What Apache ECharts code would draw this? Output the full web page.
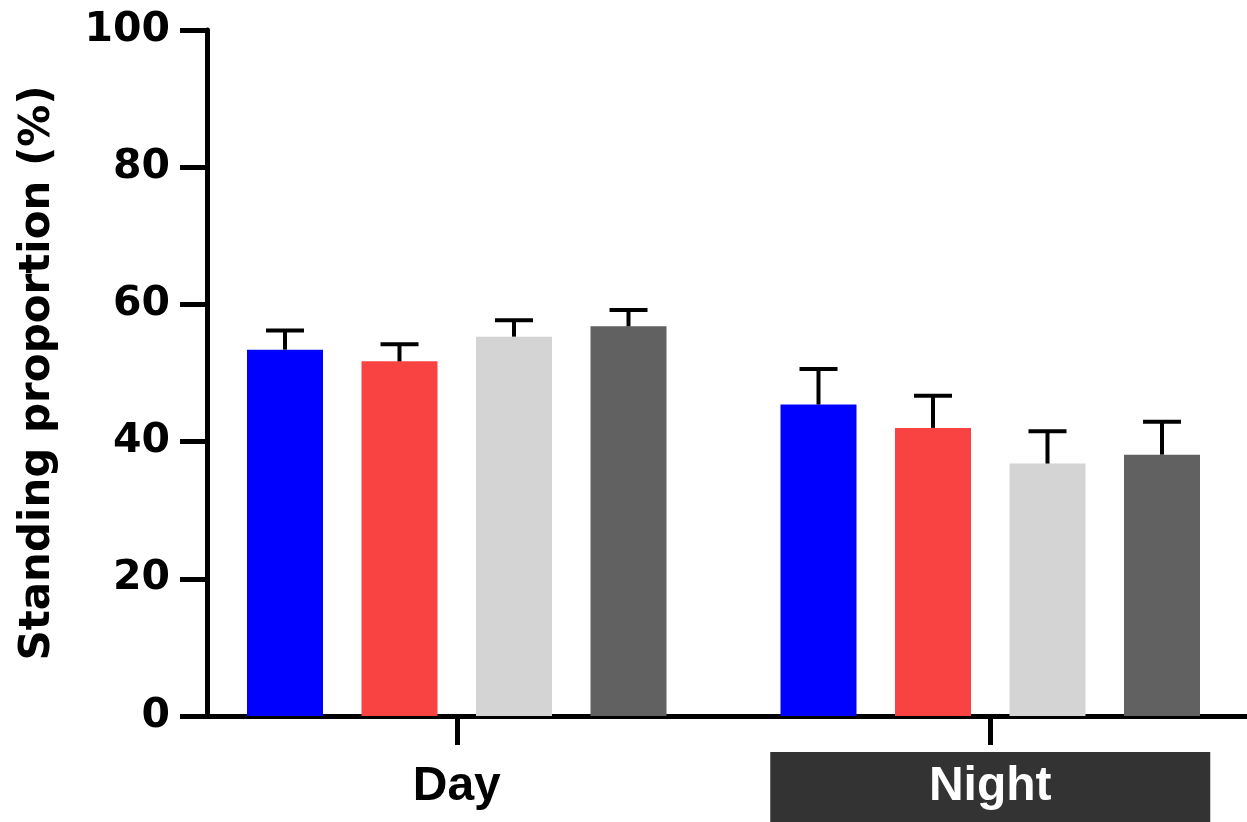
<!DOCTYPE html>
<html>
<head>
<meta charset="utf-8">
<script src="https://cdn.jsdelivr.net/npm/echarts@6/dist/echarts.min.js"></script>
<style>
html,body{margin:0;padding:0;background:#fff;}
#chart{width:1247px;height:822px;}
</style>
</head>
<body>
<div id="chart"></div>
<script>
// ---- data ----
const categories = ['Day', 'Night'];
const groupNames = ['Group 1', 'Group 2', 'Group 3', 'Group 4'];
const group1Mean = [53.4, 45.4];
const group1Sem  = [2.8, 5.2];
const group2Mean = [51.7, 42.0];
const group2Sem  = [2.5, 4.7];
const group3Mean = [55.3, 36.8];
const group3Sem  = [2.4, 4.7];
const group4Mean = [56.8, 38.1];
const group4Sem  = [2.4, 4.8];
const yMin = 0, yMax = 100, yInterval = 20;
const yAxisName = 'Standing proportion (%)';

// ---- style ----
const colors = ['#0000FF', '#F94343', '#D4D4D4', '#616161'];
const BAR_W = 76;
const BAR_GAP = 38.5;

const means = [group1Mean, group2Mean, group3Mean, group4Mean];
const sems = [group1Sem, group2Sem, group3Sem, group4Sem];

const barSeries = means.map((m, i) => ({
  name: groupNames[i],
  type: 'bar',
  data: m,
  barWidth: BAR_W,
  barGap: (BAR_GAP / BAR_W * 100) + '%',
  itemStyle: { color: colors[i] },
  z: 2
}));

const errData = [];
means.forEach((m, s) => {
  m.forEach((v, c) => errData.push([c, v, sems[s][c], s]));
});

const errSeries = {
  type: 'custom',
  data: errData,
  z: 3,
  renderItem: function (params, api) {
    const c = api.value(0), v = api.value(1), e = api.value(2), s = api.value(3);
    const base = api.coord([c, v]);
    const top = api.coord([c, v + e]);
    const off = (s - (means.length - 1) / 2) * (BAR_W + BAR_GAP);
    const x = base[0] + off;
    const half = BAR_W / 4;
    const style = { stroke: '#000', lineWidth: 4, fill: null };
    return {
      type: 'group',
      children: [
        { type: 'line', shape: { x1: x, y1: base[1], x2: x, y2: top[1] }, style: style },
        { type: 'line', shape: { x1: x - half, y1: top[1], x2: x + half, y2: top[1] }, style: style }
      ]
    };
  }
};

const chart = echarts.init(document.getElementById('chart'), null, { renderer: 'canvas' });
chart.setOption({
  backgroundColor: '#ffffff',
  animation: false,
  grid: { left: 190, width: 1067, top: 30, bottom: 106, containLabel: false, outerBoundsMode: 'none' },
  xAxis: {
    type: 'category',
    data: categories,
    boundaryGap: true,
    axisLine: { show: true, lineStyle: { color: '#000', width: 5 } },
    axisTick: { show: true, interval: 0, alignWithLabel: true, length: 29, lineStyle: { color: '#000', width: 5 } },
    axisLabel: {
      margin: 36,
      interval: 0,
      formatter: v => v === 'Night' ? '{n|' + v + '}' : '{d|' + v + '}',
      rich: {
        d: { fontFamily: 'Liberation Sans, Arial', fontWeight: 'bold', fontSize: 48, color: '#000', height: 70, align: 'center' },
        n: { fontFamily: 'Liberation Sans, Arial', fontWeight: 'bold', fontSize: 48, color: '#fff', backgroundColor: '#333333', width: 440, height: 70, align: 'center' }
      }
    }
  },
  yAxis: {
    type: 'value',
    min: yMin, max: yMax, interval: yInterval,
    offset: -17,
    name: yAxisName,
    nameLocation: 'middle',
    nameRotate: 90,
    nameGap: 148,
    nameTextStyle: { fontFamily: 'DejaVu Sans', fontWeight: 'bold', fontSize: 42, color: '#000' },
    axisLine: { show: true, lineStyle: { color: '#000', width: 5 } },
    axisTick: { show: true, length: 27, lineStyle: { color: '#000', width: 5 } },
    axisLabel: { margin: 37, fontFamily: 'DejaVu Sans', fontWeight: 'bold', fontSize: 41, color: '#000' },
    splitLine: { show: false }
  },
  series: [...barSeries, errSeries]
});
</script>
</body>
</html>
